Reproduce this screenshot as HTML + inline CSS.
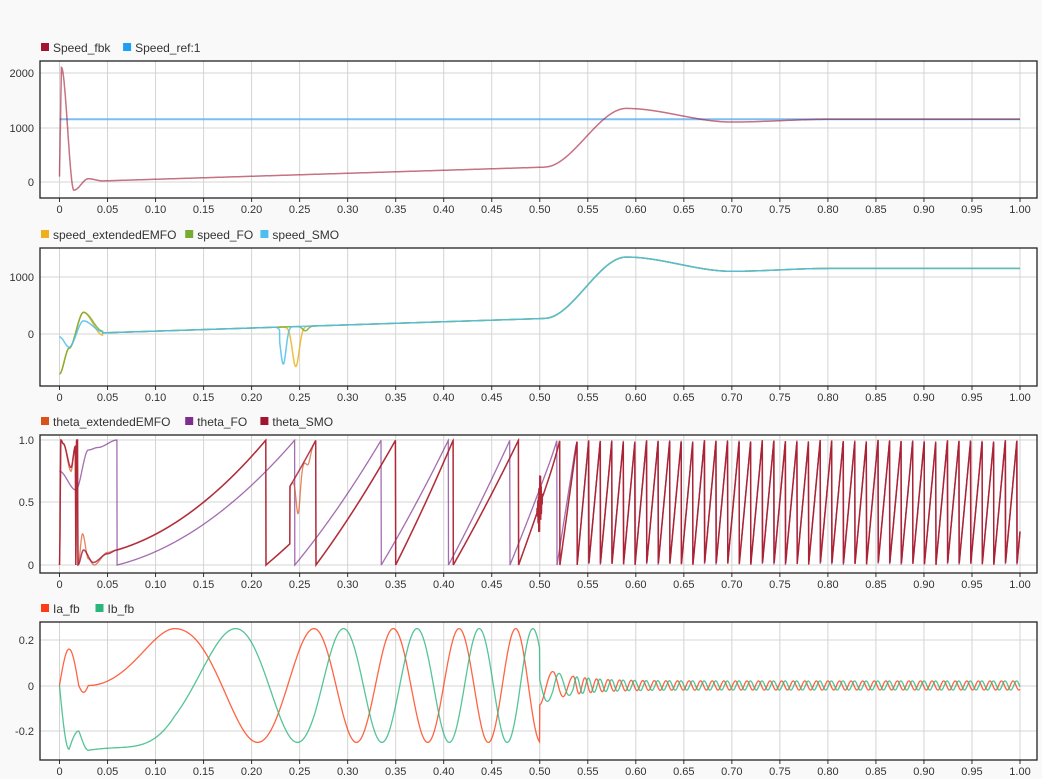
<!DOCTYPE html>
<html><head><meta charset="utf-8"><style>
html,body{margin:0;padding:0;background:#f9f9f9;}
svg{display:block;font-family:"Liberation Sans",Arial,sans-serif;}
</style></head><body>
<svg id="s" width="1042" height="779" xmlns="http://www.w3.org/2000/svg"></svg>
<script>
const S=document.getElementById('s');let h='';
const X0=59.5,XS=960.5,L=40,R=1037;
const X=t=>X0+XS*t;
const panels=[{top:61,bot:198,ticks:[[2000,73],[1000,128],[0,182]],leg:[['Speed_fbk','#a2142f'],['Speed_ref:1','#1aa1f5']]},
{top:248,bot:386,ticks:[[1000,277],[0,334]],leg:[['speed_extendedEMFO','#edb120'],['speed_FO','#77ac30'],['speed_SMO','#4dbeee']]},
{top:435,bot:573,ticks:[[1,440],[0.5,502],[0,565]],lab:['1.0','0.5','0'],leg:[['theta_extendedEMFO','#d95319'],['theta_FO','#7e2f8e'],['theta_SMO','#a2142f']]},
{top:622,bot:760,ticks:[[0.2,640],[0,686],[-0.2,731]],lab:['0.2','0','-0.2'],leg:[['Ia_fb','#ff3d14'],['Ib_fb','#2ab57d']]}];
function ymap(p,v){const a=p.ticks[0],b=p.ticks[p.ticks.length-1];return a[1]+(v-a[0])*(b[1]-a[1])/(b[0]-a[0]);}
panels.forEach(p=>{
 h+=`<rect x="${L}" y="${p.top}" width="${R-L}" height="${p.bot-p.top}" fill="#fff"/>`;
 for(let i=0;i<=20;i++){const x=X(i*0.05);h+=`<line x1="${x}" y1="${p.top}" x2="${x}" y2="${p.bot}" stroke="#d4d4d4"/>`;
  h+=`<line x1="${x}" y1="${p.bot}" x2="${x}" y2="${p.bot+4}" stroke="#333"/>`;
  h+=`<text x="${x}" y="${p.bot+15}" font-size="11" fill="#333" text-anchor="middle">${i==0?'0':(i*0.05).toFixed(2)}</text>`;}
 p.ticks.forEach((t,i)=>{h+=`<line x1="${L}" y1="${t[1]}" x2="${R}" y2="${t[1]}" stroke="#d4d4d4"/>`;
  h+=`<text x="${L-6}" y="${t[1]+4}" font-size="11" fill="#333" text-anchor="end">${p.lab?p.lab[i]:t[0]}</text>`;});
 let lx=41;p.leg.forEach(l=>{h+=`<rect x="${lx}" y="${p.top-18}" width="8" height="8" fill="${l[1]}"/>`;
  h+=`<text x="${lx+12}" y="${p.top-9}" font-size="12" fill="#333">${l[0]}</text>`;lx+=12+l[0].length*6.9+8;});
});
const ss=(a,b,x)=>{x=Math.max(0,Math.min(1,x));x=x*x*(3-2*x);return a+(b-a)*x;};
function interp(pts,t){for(let k=1;k<pts.length;k++){if(t<=pts[k][0]){const a=pts[k-1],b=pts[k];return ss(a[1],b[1],(t-a[0])/(b[0]-a[0]||1));}}return pts[pts.length-1][1];}
function spd(t){
 if(t<0.002)return 100+1000*t*1000;
 if(t<0.015)return ss(2100,-150,(t-0.002)/0.013);
 if(t<0.03)return ss(-150,60,(t-0.015)/0.015);
 if(t<0.045)return ss(60,20,(t-0.03)/0.015);
 if(t<0.505)return 20+250*(t-0.045)/0.455;
 if(t<0.59)return ss(275,1350,(t-0.505)/0.085);
 if(t<0.7)return ss(1350,1100,(t-0.59)/0.11);
 if(t<0.8)return ss(1100,1150,(t-0.7)/0.1);
 return 1150;}
const N=4000,dt=1/N;let ph=[],T=[],acc=0;
for(let i=0;i<=N;i++){const t=i*dt;T.push(t);ph.push(acc);acc+=0.078*Math.max(spd(t),0)*dt;}
const I=t=>Math.round(t*N);
const g=t=>Math.exp(-t*t);
// segment in phase-space: value from v0 at t0 to v1 at t1
function seg(i,segs){const t=T[i];for(const s of segs){if(t>=s[0]&&t<s[1]){const a=ph[I(s[0])],b=ph[I(s[1])];return s[2]+(s[3]-s[2])*(ph[i]-a)/(b-a||1);}}return null;}
function path(p,f,c,w,op){let d='';for(let i=0;i<=N;i++){const v=f(i);d+=(i?'L':'M')+X(T[i]).toFixed(1)+','+ymap(p,v).toFixed(1);}
 h+=`<path d="${d}" fill="none" stroke="${c}" stroke-width="${w||1.3}" opacity="${op||0.75}"/>`;}
const P=panels;
path(P[0],i=>1150,'#5aaef0',2,0.8);
path(P[0],i=>spd(T[i]),'#a2142f',1.5,0.6);
function sp2(t,k){let v=spd(t);
 if(t<0.045){const e=[[-700,-250,380,50],[-700,-250,380,-20],[-50,-230,230,40]][k];
  if(t<0.01)v=ss(e[0],e[1],t/0.01);else if(t<0.025)v=ss(e[1],e[2],(t-0.01)/0.015);else v=ss(e[2],e[3],(t-0.025)/0.02);}
 if(k==2)v-=(650)*g((t-0.233)/0.004)*(t>0.229?1:0.2);
 if(k==1)v-=(700)*g((t-0.246)/0.005);
 if(k==0)v-=80*g((t-0.256)/0.004);
 return v;}
path(P[1],i=>sp2(T[i],1),'#edb120',1.5,0.85);
path(P[1],i=>sp2(T[i],0),'#77ac30',1.5,0.85);
path(P[1],i=>sp2(T[i],2),'#4dbeee',1.5,0.85);
const fr=x=>x-Math.floor(x);
function late(t,off){if(t<0.539)return (t-0.521)/0.018;return fr((t-0.539)*83+off);}
const smoEarly=[[0,0],[0.0015,1],[0.004,0.97],[0.012,0.78],[0.0165,0.95],[0.017,0],[0.0178,1],[0.0188,1],[0.0192,0],[0.025,0.12],[0.035,0.02],[0.05,0.09],[0.06,0.12]];
const orEarly=[[0,0],[0.0015,1],[0.004,0.97],[0.012,0.75],[0.0165,0.95],[0.017,0],[0.0178,1],[0.0188,1],[0.0192,0],[0.024,0.25],[0.03,0.05],[0.036,0.0],[0.05,0.1],[0.06,0.12]];
const smoSegs=[[0.06,0.215,0.12,1],[0.215,0.24,0,0.17],[0.24,0.267,0.63,1],[0.267,0.35,0,1],[0.35,0.41,0,1],[0.41,0.478,0,1],[0.478,0.521,0,1]];
function smo(i){const t=T[i];if(t<0.06)return interp(smoEarly,t);
 if(t>=0.521)return late(t,0);
 let v=seg(i,smoSegs);
 if(t>0.497&&t<0.503)v+=0.25*Math.sin(t*9000)*g((t-0.5)/0.002);
 return v;}
function ext(i){const t=T[i];if(t<0.06)return interp(orEarly,t);
 if(t>=0.24&&t<0.267)return smo(i)-0.33*g((t-0.2485)/0.003)-0.08*g((t-0.259)/0.003);
 return smo(i)+0.002;}
const foEarly=[[0,0.75],[0.017,0.6],[0.03,0.92],[0.04,0.94],[0.06,1]];
const foSegs=[[0.06,0.245,0,1],[0.245,0.335,0,1],[0.335,0.405,0,1],[0.405,0.469,0,1],[0.469,0.518,0,1]];
function fo(i){const t=T[i];if(t<0.06)return interp(foEarly,t);
 if(t>=0.518){if(t<0.538)return (t-0.518)/0.0205;return late(t,0.01);}
 return seg(i,foSegs);}
path(P[2],fo,'#7e2f8e',1.3,0.7);
path(P[2],ext,'#d95319',1.3,0.7);
path(P[2],smo,'#a2142f',1.5,0.8);
// currents
const curSegs=[[0.12,0.265,0,1],[0.265,0.3475,1,2],[0.3475,0.416,2,3],[0.416,0.475,3,4],[0.475,0.5001,4,4.48]];
function rel(i){const t=T[i];if(t<0.03)return -0.25;if(t<0.12){const u=(t-0.03)/0.09;return -0.25+0.25*u*u;}return seg(i,curSegs);}
function q(t){if(t<0.514)return -0.5+0.5*(t-0.5)/0.014;if(t<0.535)return (t-0.514)/0.021;return 1+(t-0.535)*83;}
function A(t){return 0.02+0.055*Math.exp(-(t-0.505)/0.03);}
path(P[3],i=>{const t=T[i];
 if(t>=0.5)return A(t)*Math.cos(2*Math.PI*q(t));
 if(t<0.02)return 0.16*Math.sin(Math.PI*t/0.02);
 if(t<0.03)return -0.03*Math.sin(Math.PI*(t-0.02)/0.01);
 return 0.25*Math.cos(2*Math.PI*rel(i));},'#ff3d14',1.3,0.8);
path(P[3],i=>{const t=T[i];
 if(t>=0.5)return A(t)*Math.cos(2*Math.PI*(q(t)-0.3));
 const s=0.25*Math.sin(2*Math.PI*(rel(i)-0.09*Math.min(1,t/0.12)))*(t<0.12?1.2-0.2*t/0.12:1);
 if(t<0.03){const e=t<0.01?-0.28*Math.sin(Math.PI/2*t/0.01):-0.28+0.08*Math.sin(Math.PI*(t-0.01)/0.02);return t<0.02?e:e*(1-(t-0.02)/0.01)+s*((t-0.02)/0.01);}
 return s;},'#2ab57d',1.3,0.8);
panels.forEach(p=>{h+=`<rect x="${L}" y="${p.top}" width="${R-L}" height="${p.bot-p.top}" fill="none" stroke="#222" stroke-width="1.3"/>`;});
S.innerHTML=h;
</script>
</body></html>
